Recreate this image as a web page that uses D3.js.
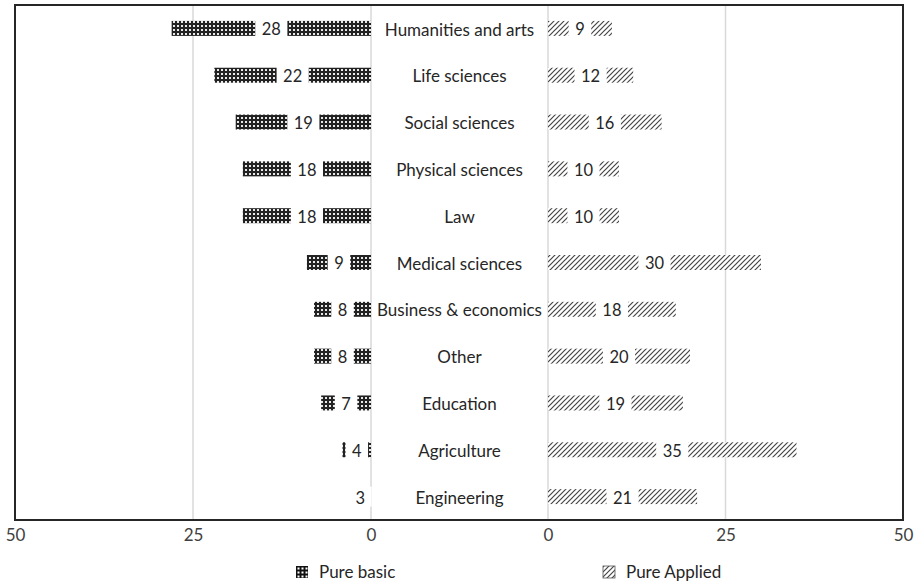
<!DOCTYPE html>
<html>
<head>
<meta charset="utf-8">
<script src="https://cdn.jsdelivr.net/npm/d3@7"></script>
<style>
  html, body { margin: 0; padding: 0; background: #fff; }
  svg { display: block; font-family: Lato, "Open Sans", sans-serif; }
</style>
</head>
<body>
<svg id="chart" width="918" height="584"></svg>
<script>
const categories = ["Humanities and arts", "Life sciences", "Social sciences", "Physical sciences", "Law",
  "Medical sciences", "Business & economics", "Other", "Education", "Agriculture", "Engineering"];
const pureBasic = [28, 22, 19, 18, 18, 9, 8, 8, 7, 4, 3];
const pureApplied = [9, 12, 16, 10, 10, 30, 18, 20, 19, 35, 21];
const tickValues = [0, 25, 50];
const seriesNames = ["Pure basic", "Pure Applied"];

const svg = d3.select("#chart");
const defs = svg.append("defs");

// dotted (pure basic) pattern
const pb = defs.append("pattern").attr("id", "pbasic").attr("patternUnits", "userSpaceOnUse")
  .attr("width", 4).attr("height", 4);
pb.append("rect").attr("width", 4).attr("height", 4).attr("fill", "#222");
pb.append("rect").attr("x", 1).attr("y", 1).attr("width", 2).attr("height", 2).attr("fill", "#e8e8e8");

// legend big checker
const pbL = defs.append("pattern").attr("id", "pbasicL").attr("patternUnits", "userSpaceOnUse")
  .attr("x", 296).attr("y", 566).attr("width", 4).attr("height", 4);
pbL.append("rect").attr("width", 4).attr("height", 4).attr("fill", "#111");
pbL.append("rect").attr("x", 1.5).attr("y", 1.5).attr("width", 2).attr("height", 2).attr("fill", "#fff");

// hatch (pure applied) pattern
const pa = defs.append("pattern").attr("id", "papplied").attr("patternUnits", "userSpaceOnUse")
  .attr("width", 5).attr("height", 5);
pa.append("rect").attr("width", 5).attr("height", 5).attr("fill", "#fff");
pa.append("path").attr("d", "M-1,1 L1,-1 M0,5 L5,0 M4,6 L6,4")
  .attr("stroke", "#444").attr("stroke-width", 1.2);

const xL = d3.scaleLinear().domain([0, 50]).range([371, 15]);
const xR = d3.scaleLinear().domain([0, 50]).range([548, 903]);
const y = d3.scaleBand().domain(categories).range([5, 520]).paddingInner(0.68).paddingOuter(0.34);

const yTop = 5, yBottom = 520;

// gridlines
const grid = svg.append("g");
[[xL, 0], [xL, 25], [xR, 0], [xR, 25]].forEach(([s, v]) => {
  grid.append("line").attr("x1", s(v)).attr("x2", s(v)).attr("y1", yTop).attr("y2", yBottom)
    .attr("stroke", "#d9d9d9").attr("stroke-width", 1.5);
});

// bars
svg.append("g").selectAll("rect").data(categories).join("rect")
  .attr("x", (d, i) => xL(pureBasic[i]))
  .attr("width", (d, i) => xL(0) - xL(pureBasic[i]))
  .attr("y", d => y(d)).attr("height", y.bandwidth())
  .attr("fill", "url(#pbasic)");

svg.append("g").selectAll("rect").data(categories).join("rect")
  .attr("x", xR(0))
  .attr("width", (d, i) => xR(pureApplied[i]) - xR(0))
  .attr("y", d => y(d)).attr("height", y.bandwidth())
  .attr("fill", "url(#papplied)");

// data labels
function addLabels(values, scale) {
  const g = svg.append("g");
  categories.forEach((c, i) => {
    const cx = (scale(0) + scale(values[i])) / 2;
    const cy = y(c) + y.bandwidth() / 2;
    const lg = g.append("g");
    const bg = lg.append("rect").attr("fill", "#fff");
    const t = lg.append("text").attr("x", cx).attr("y", cy + 1).attr("dy", "0.36em")
      .attr("text-anchor", "middle").attr("font-size", 16.5).attr("fill", "#262626").text(values[i]);
    const w = t.node().getComputedTextLength();
    bg.attr("x", cx - w / 2 - 6.5).attr("width", w + 13)
      .attr("y", cy - 10).attr("height", 20);
  });
}
addLabels(pureBasic, xL);
addLabels(pureApplied, xR);

// category labels
svg.append("g").selectAll("text").data(categories).join("text")
  .attr("x", (xL(0) + xR(0)) / 2)
  .attr("y", d => y(d) + y.bandwidth() / 2 + 1).attr("dy", "0.36em")
  .attr("text-anchor", "middle").attr("font-size", 17).attr("fill", "#262626")
  .text(d => d);

// border
svg.append("rect").attr("x", 15).attr("y", yTop).attr("width", 903 - 15).attr("height", yBottom - yTop)
  .attr("fill", "none").attr("stroke", "#262626").attr("stroke-width", 2);

// axes
function styleAxis(g) {
  g.select(".domain").remove();
  g.selectAll(".tick line").remove();
  g.selectAll(".tick text").attr("font-size", 17).attr("fill", "#404040")
    .attr("font-family", "Lato, 'Open Sans', sans-serif");
}
svg.append("g").attr("transform", `translate(0,${yBottom + 5})`)
  .call(d3.axisBottom(xL).tickValues(tickValues).tickSize(0).tickPadding(4)).call(styleAxis);
svg.append("g").attr("transform", `translate(0,${yBottom + 5})`)
  .call(d3.axisBottom(xR).tickValues(tickValues).tickSize(0).tickPadding(4)).call(styleAxis);

// legend
const legend = svg.append("g");
const legItems = [{ name: seriesNames[0], x: 296, fill: "url(#pbasicL)", stroke: "none" },
                  { name: seriesNames[1], x: 603, fill: "url(#papplied)", stroke: "#555" }];
legItems.forEach(it => {
  legend.append("rect").attr("x", it.x).attr("y", 566).attr("width", 12).attr("height", 12)
    .attr("fill", it.fill).attr("stroke", it.stroke).attr("stroke-width", 0.8);
  legend.append("text").attr("x", it.x + 23).attr("y", 572).attr("dy", "0.36em")
    .attr("font-size", 17).attr("fill", "#262626").text(it.name);
});
</script>
</body>
</html>
